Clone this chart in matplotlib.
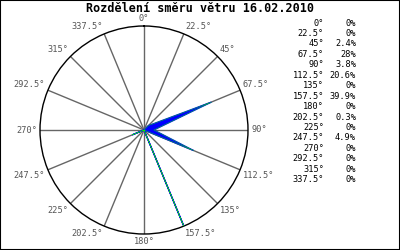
import numpy as np
import matplotlib.pyplot as plt
from matplotlib.patches import Rectangle

TITLE = 'Rozdělení směru větru 16.02.2010'
directions = [0, 22.5, 45, 67.5, 90, 112.5, 135, 157.5,
              180, 202.5, 225, 247.5, 270, 292.5, 315, 337.5]
percent = [0, 0, 2.4, 28, 3.8, 20.6, 0, 39.9,
           0, 0.3, 0, 4.9, 0, 0, 0, 0]
dir_labels = ['0°', '22.5°', '45°', '67.5°', '90°', '112.5°', '135°', '157.5°',
              '180°', '202.5°', '225°', '247.5°', '270°', '292.5°', '315°', '337.5°']
pct_labels = ['0%', '0%', '2.4%', '28%', '3.8%', '20.6%', '0%', '39.9%',
              '0%', '0.3%', '0%', '4.9%', '0%', '0%', '0%', '0%']

MONO = 'DejaVu Sans Mono'

fig = plt.figure(figsize=(4, 2.5), dpi=100)
fig.patches.append(Rectangle((0, 0), 1, 1, transform=fig.transFigure,
                             fill=False, edgecolor='black', linewidth=1.5))

ax = fig.add_axes([0.1, 0.064, 0.52, 0.832], projection='polar')
ax.set_theta_zero_location('N')
ax.set_theta_direction(-1)
rmax = max(percent)
ax.set_ylim(0, rmax)
ax.grid(False)
ax.set_xticks([])
ax.set_yticks([])
ax.spines['polar'].set_color('black')
ax.spines['polar'].set_linewidth(1)

theta = np.radians(directions)

# spokes
for t in theta:
    ax.plot([t, t], [0, rmax], color='#666666', lw=1.0, zorder=1)

# wind distribution polygon
tt = np.append(theta, theta[0])
rr = np.append(percent, percent[0])
ax.fill(tt, rr, facecolor='#0000ff', edgecolor='#0000ff', lw=0.9, zorder=3)
ax.plot(tt, rr, color='#00ee00', lw=0.3, zorder=4)

# direction labels around circle
for t, lab in zip(theta, dir_labels):
    s, c = np.sin(t), np.cos(t)
    ha = 'left' if s > 0.1 else ('right' if s < -0.1 else 'center')
    va = 'bottom' if c > 0.1 else ('top' if c < -0.1 else 'center')
    ax.text(t, rmax * 1.03, lab, ha=ha, va=va, fontsize=6.2,
            family=MONO, color='#555555')

# table on the right
y0 = 1 - 23 / 250
dy = 10.45 / 250
for i, (d, p) in enumerate(zip(dir_labels, pct_labels)):
    y = y0 - i * dy
    fig.text(324 / 400, y, d, ha='right', va='center', fontsize=6.2,
             family=MONO, color='black')
    fig.text(356 / 400, y, p, ha='right', va='center', fontsize=6.2,
             family=MONO, color='black')

fig.text(0.5, 1 - 8 / 250, TITLE, ha='center', va='center', fontsize=8.5,
         family=MONO, fontweight='bold')

fig.savefig('out.png', dpi=100, facecolor='white')
